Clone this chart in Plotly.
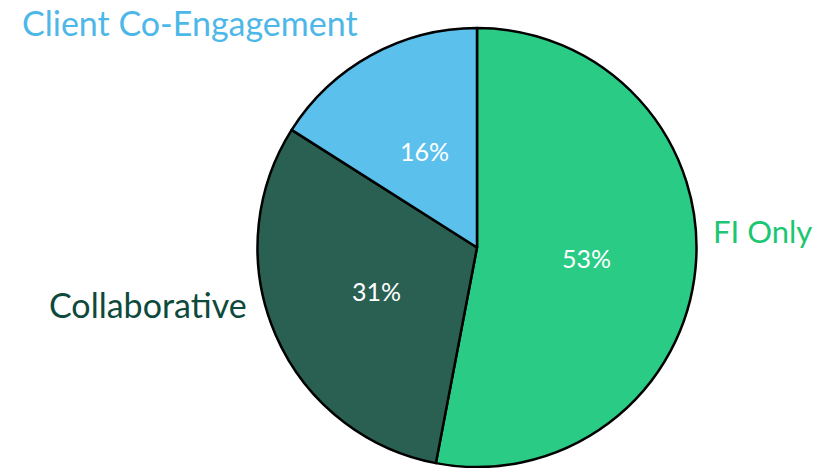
import math
import plotly.graph_objects as go

labels = ["FI Only", "Collaborative", "Client Co-Engagement"]
values = [53, 31, 16]
slice_colors = ["#2ACB85", "#2A6052", "#5BC0EB"]
label_colors = ["#1DC673", "#0E4A3B", "#4DB8E8"]

W, H = 823, 468
MT, MB = 28, 1
plot_h = H - MT - MB
cx = 477 / W  # pie center in paper x
half = 0.30

fig = go.Figure(go.Pie(
    labels=labels,
    values=values,
    sort=False,
    direction="clockwise",
    rotation=0,
    marker=dict(colors=slice_colors, line=dict(color="#000000", width=2.5)),
    textinfo="none",
    showlegend=False,
    hoverinfo="skip",
    domain=dict(x=[cx - half, cx + half], y=[0, 1]),
))

# percentage labels at half radius, mid-angle of each slice
R_px = plot_h / 2
total = sum(values)
cum = 0
for v in values:
    mid = (cum + v / 2) / total * 2 * math.pi
    cum += v
    px = cx + 0.5 * R_px * math.sin(mid) / W
    py = 0.5 + 0.5 * R_px * math.cos(mid) / plot_h
    fig.add_annotation(
        text=f"{round(v / total * 100)}%", x=px, y=py, xref="paper", yref="paper",
        xanchor="center", yanchor="middle", showarrow=False,
        font=dict(family="Lato", size=25, color="#FFFFFF"),
    )

# outside labels (page pixel anchors)
label_pos = [(711, 231), (47, 304), (20, 23)]
label_sizes = [31, 34, 34]
for lab, col, (px, py), fs in zip(labels, label_colors, label_pos, label_sizes):
    fig.add_annotation(
        text=lab, x=px / W, y=1 - (py - MT) / plot_h,
        xref="paper", yref="paper",
        xanchor="left", yanchor="middle", showarrow=False,
        font=dict(family="Lato", size=fs, color=col),
    )

fig.update_layout(
    width=W, height=H,
    margin=dict(l=0, r=0, t=MT, b=MB),
    paper_bgcolor="white", plot_bgcolor="white",
)
fig.write_html(
    "out.html",
    config={"displayModeBar": False},
    post_script="document.body.style.margin='0';document.body.style.overflow='hidden';",
)
